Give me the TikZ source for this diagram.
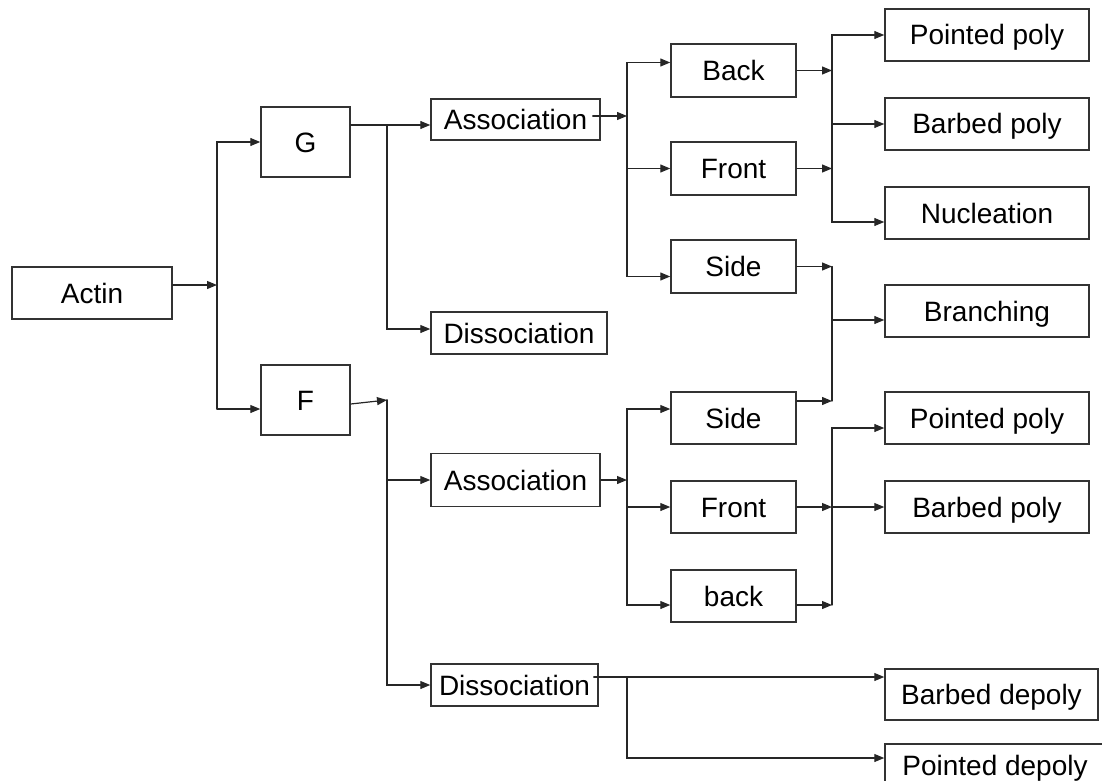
\documentclass[tikz,border=0pt]{standalone}
\usepackage{fontspec}
\setmainfont{Liberation Sans}
\usepackage{tikz}
\usetikzlibrary{arrows.meta}
\usepackage{xcolor}

\begin{document}
\begin{tikzpicture}[x=1pt,y=-1pt,>={Triangle[length=10pt,width=8pt]},line cap=round,
  font=\fontsize{28}{32}\selectfont,
  box/.style={draw=black!80,line width=1.5pt,inner sep=0pt,text height=20pt,text depth=0pt,minimum height=52pt},
  conn/.style={black!85,line width=1.2pt}]
\useasboundingbox (0,0) rectangle (1102,781);
% columns of the vertical connector lines
\coordinate (colA) at (217,0);
\coordinate (colB) at (387,0);
\coordinate (colC) at (627,0);
\coordinate (colD) at (832,0);
% boxes
\node[box,minimum width=160pt] (actin) at (92,293) {Actin};
\node[box,minimum width=89pt,minimum height=70pt] (g) at (305.5,142) {G};
\node[box,minimum width=89pt,minimum height=70pt] (f) at (305.5,400) {F};
\node[box,minimum width=169pt,minimum height=41pt] (assocG) at (515.5,119.5) {Association};
\node[box,minimum width=176pt,minimum height=42pt] (dissocG) at (519,333) {Dissociation};
\node[box,minimum width=125pt,minimum height=53pt] (backG) at (733.5,70.5) {Back};
\node[box,minimum width=125pt,minimum height=53pt] (frontG) at (733.5,168.5) {Front};
\node[box,minimum width=125pt,minimum height=53pt] (sideG) at (733.5,266.5) {Side};
\node[box,minimum width=204pt] (pointedG) at (987,35) {Pointed poly};
\node[box,minimum width=204pt] (barbedG) at (987,124) {Barbed poly};
\node[box,minimum width=204pt] (nucl) at (987,213) {Nucleation};
\node[box,minimum width=204pt] (branch) at (987,311) {Branching};
\node[box,minimum width=169pt,minimum height=53pt] (assocF) at (515.5,480) {Association};
\node[box,minimum width=167pt,minimum height=42pt] (dissocF) at (514.5,685) {Dissociation};
\node[box,minimum width=125pt] (sideF) at (733.5,418) {Side};
\node[box,minimum width=125pt] (frontF) at (733.5,507) {Front};
\node[box,minimum width=125pt] (backF) at (733.5,596) {back};
\node[box,minimum width=204pt] (pointedF) at (987,418) {Pointed poly};
\node[box,minimum width=204pt] (barbedF) at (987,507) {Barbed poly};
\node[box,minimum width=213pt,minimum height=51pt] (barbedDe) at (991.5,694.5) {Barbed depoly};
\node[box,minimum width=220pt,minimum height=42pt] (pointedDe) at (995,765) {Pointed depoly};
% Actin -> G, F
\draw[conn,->] ([yshift=8pt]actin.east) -- ([yshift=8pt]actin.east -| colA);
\draw[conn,->] ([yshift=-9pt]f.west -| colA) |- (g.west);
\draw[conn,->] ([yshift=-9pt]f.west -| colA) -- ([yshift=-9pt]f.west);
% G -> Association, Dissociation
\draw[conn,->] ([yshift=17pt]g.east) -- ([yshift=17pt]g.east -| assocG.west);
\draw[conn,->] ([yshift=17pt]g.east -| colB) |- ([yshift=4pt]dissocG.west);
% F -> Association, Dissociation
\draw[conn,->] ([yshift=-4pt]f.east) -- (f.east -| colB);
\draw[conn,->] (f.east -| colB) |- (assocF.west);
\draw[conn,->] (f.east -| colB) |- (dissocF.west);
% upper Association -> Back, Front, Side
\draw[conn,->] ([xshift=-8pt,yshift=3.5pt]assocG.east) -- ([yshift=3.5pt]assocG.east -| colC);
\draw[conn,->] ([yshift=3.5pt]assocG.east -| colC) |- ([yshift=8pt]backG.west);
\draw[conn,->] ([yshift=3.5pt]assocG.east -| colC) |- (frontG.west);
\draw[conn,->] ([yshift=3.5pt]assocG.east -| colC) |- ([yshift=-10pt]sideG.west);
% Back, Front -> Pointed poly, Barbed poly, Nucleation
\draw[conn,->] (backG.east) -- (backG.east -| colD);
\draw[conn,->] (frontG.east) -- (frontG.east -| colD);
\draw[conn,->] (backG.east -| colD) |- (pointedG.west);
\draw[conn,->] (backG.east -| colD) |- (barbedG.west);
\draw[conn,->] (backG.east -| colD) |- ([yshift=-9pt]nucl.west);
% Side, Side -> Branching
\draw[conn,->] (sideG.east) -- (sideG.east -| colD);
\draw[conn,->] ([yshift=17pt]sideF.east) -- ([yshift=17pt]sideF.east -| colD);
\draw[conn] (sideG.east -| colD) -- ([yshift=17pt]sideF.east -| colD);
\draw[conn,->] ([yshift=-9pt]branch.west -| colD) -- ([yshift=-9pt]branch.west);
% lower Association -> Side, Front, back
\draw[conn,->] (assocF.east) -- (assocF.east -| colC);
\draw[conn,->] (assocF.east -| colC) |- ([yshift=9pt]sideF.west);
\draw[conn,->] (assocF.east -| colC) |- (frontF.west);
\draw[conn,->] (assocF.east -| colC) |- ([yshift=-9pt]backF.west);
% Front, back -> Pointed poly, Barbed poly
\draw[conn,->] (frontF.east) -- (frontF.east -| colD);
\draw[conn,->] ([yshift=-9pt]backF.east) -- ([yshift=-9pt]backF.east -| colD);
\draw[conn,->] ([yshift=-9pt]backF.east -| colD) |- ([yshift=-10pt]pointedF.west);
\draw[conn,->] (frontF.east -| colD) -- (barbedF.west);
% lower Dissociation -> Barbed depoly, Pointed depoly
\draw[conn,->] ([xshift=-5pt,yshift=8pt]dissocF.east) -- ([yshift=8pt]dissocF.east -| barbedDe.west);
\draw[conn,->] ([yshift=8pt]dissocF.east -| colC) |- ([yshift=7pt]pointedDe.west);
\end{tikzpicture}
\end{document}
